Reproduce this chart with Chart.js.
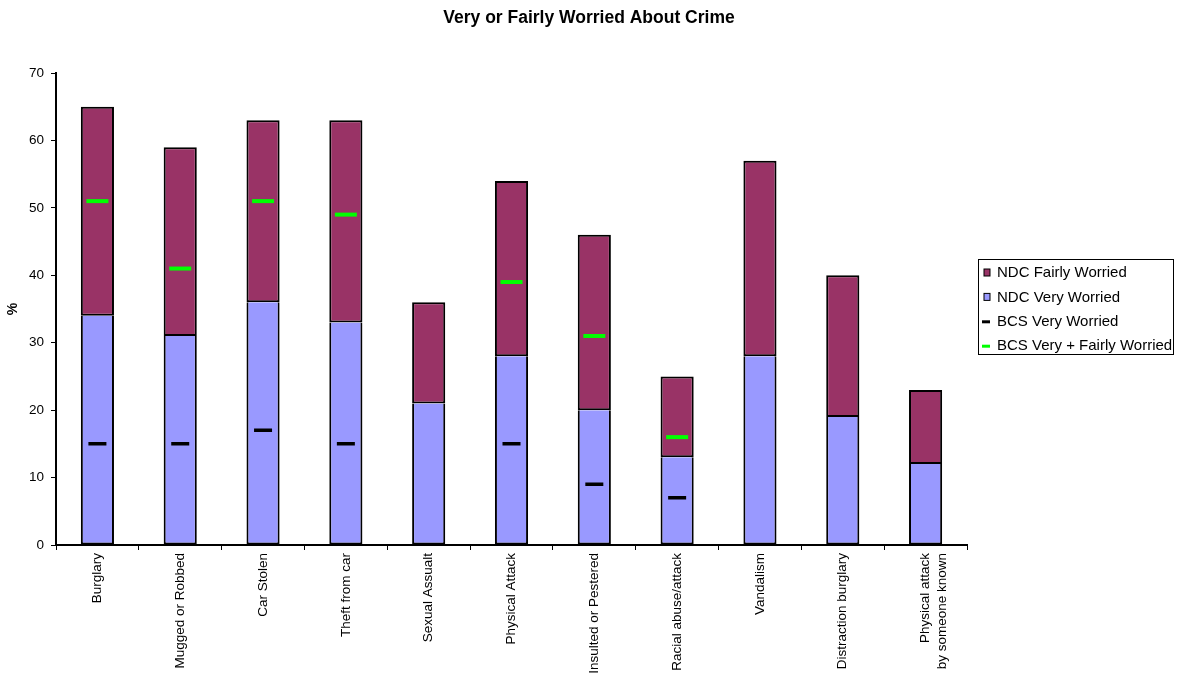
<!DOCTYPE html>
<html>
<head>
<meta charset="utf-8">
<title>Very or Fairly Worried About Crime</title>
<script src="https://cdn.jsdelivr.net/npm/chart.js@4/dist/chart.umd.min.js"></script>
<style>
  html, body { margin: 0; padding: 0; background: #ffffff; }
  #wrap { width: 1178px; height: 675px; position: relative; }
</style>
</head>
<body>
<div id="wrap"><canvas id="chart"></canvas></div>
<script>
// Crime types on the category axis
const categories = [
  'Burglary', 'Mugged or Robbed', 'Car Stolen', 'Theft from car', 'Sexual Assualt',
  'Physical Attack', 'Insulted or Pestered', 'Racial abuse/attack', 'Vandalism',
  'Distraction burglary', ['Physical attack', 'by someone known']
];

// NDC survey (%), stacked bars
const ndcVery   = [34, 31, 36, 33, 21, 28, 20, 13, 28, 19, 12];
const ndcFairly = [31, 28, 27, 30, 15, 26, 26, 12, 29, 21, 11];

// BCS comparison figures (%), drawn as dash markers
const bcsVery       = [15, 15, 17, 15, null, 15, 9, 7, null, null, null];
const bcsVeryFairly = [51, 41, 51, 49, null, 39, 31, 16, null, null, null];

// Value axis
const yMin = 0, yMax = 70, yStep = 10;

const FONT = "'Liberation Sans', Arial, Helvetica, sans-serif";
const LEGEND_ORDER = [1, 0, 2, 3];

// Framed legend placed in its own layout column on the right
const sideLegend = {
  id: 'sideLegend',
  beforeInit(chart) {
    const box = {
      position: 'right',
      weight: 0,
      fullSize: false,
      options: {},
      left: 0, top: 0, right: 0, bottom: 0, width: 0, height: 0,
      isHorizontal() { return false; },
      update(maxWidth, maxHeight) {
        this.width = 211;
        this.height = maxHeight;
      },
      draw() {
        const ctx = chart.ctx;
        const fx = this.left + 11.5;
        const fy = this.top + 186.5;
        const fw = 195, fh = 95;
        ctx.save();
        ctx.fillStyle = '#ffffff';
        ctx.fillRect(fx, fy, fw, fh);
        ctx.strokeStyle = '#000000';
        ctx.lineWidth = 1;
        ctx.strokeRect(fx, fy, fw, fh);
        ctx.font = '15px ' + FONT;
        ctx.textBaseline = 'middle';
        ctx.textAlign = 'left';
        LEGEND_ORDER.forEach((di, row) => {
          const ds = chart.data.datasets[di];
          const cy = fy + 13.5 + row * 24.4;
          if (ds.type === 'line') {
            ctx.strokeStyle = ds.pointBorderColor;
            ctx.lineWidth = 3;
            ctx.beginPath();
            ctx.moveTo(fx + 3.5, cy);
            ctx.lineTo(fx + 11.5, cy);
            ctx.stroke();
          } else {
            ctx.fillStyle = ds.backgroundColor;
            ctx.fillRect(fx + 5.5, cy - 4, 6, 7);
            ctx.strokeStyle = '#000000';
            ctx.lineWidth = 1;
            ctx.strokeRect(fx + 5.5, cy - 4, 6, 7);
          }
          ctx.fillStyle = '#000000';
          ctx.fillText(ds.label, fx + 18.5, cy);
        });
        ctx.restore();
      }
    };
    Chart.layouts.addBox(chart, box);
  }
};

const ctx = document.getElementById('chart').getContext('2d');
new Chart(ctx, {
  type: 'bar',
  data: {
    labels: categories,
    datasets: [
      {
        label: 'NDC Very Worried',
        data: ndcVery,
        backgroundColor: '#9999FF',
        borderColor: '#000000',
        borderWidth: 2,
        borderSkipped: 'end',
        inflateAmount: 0,
        stack: 'ndc',
        order: 1
      },
      {
        label: 'NDC Fairly Worried',
        data: ndcFairly,
        backgroundColor: '#993366',
        borderColor: '#000000',
        borderWidth: 2,
        borderSkipped: false,
        inflateAmount: 0,
        stack: 'ndc',
        order: 1
      },
      {
        type: 'line',
        label: 'BCS Very Worried',
        data: bcsVery,
        showLine: false,
        pointStyle: 'line',
        pointRadius: 9,
        pointBorderWidth: 3.5,
        pointBorderColor: '#000000',
        pointBackgroundColor: '#000000',
        borderColor: '#000000',
        stack: 'bcsVery',
        order: 0
      },
      {
        type: 'line',
        label: 'BCS Very + Fairly Worried',
        data: bcsVeryFairly,
        showLine: false,
        pointStyle: 'line',
        pointRadius: 11,
        pointBorderWidth: 4,
        pointBorderColor: '#00FF00',
        pointBackgroundColor: '#00FF00',
        borderColor: '#00FF00',
        stack: 'bcsVeryFairly',
        order: 0
      }
    ]
  },
  options: {
    responsive: true,
    maintainAspectRatio: false,
    animation: false,
    events: [],
    layout: { padding: 0 },
    datasets: {
      bar: { barPercentage: 0.4, categoryPercentage: 1.0 }
    },
    plugins: {
      legend: { display: false },
      tooltip: { enabled: false },
      title: {
        display: true,
        text: 'Very or Fairly Worried About Crime',
        color: '#000000',
        font: { family: FONT, size: 17.5, weight: 'bold' },
        padding: { top: 8, bottom: 44 }
      }
    },
    scales: {
      x: {
        stacked: true,
        offset: true,
        grid: {
          display: true,
          offset: true,
          drawOnChartArea: false,
          drawTicks: true,
          tickLength: 5,
          color: '#000000',
          lineWidth: 1
        },
        border: { display: true, color: '#000000', width: 2 },
        ticks: {
          autoSkip: false,
          minRotation: 90,
          maxRotation: 90,
          padding: 3,
          color: '#000000',
          font: { family: FONT, size: 13.5 }
        },
        afterFit(scale) { scale.height = 130; }
      },
      y: {
        stacked: true,
        min: yMin,
        max: yMax,
        grid: {
          display: true,
          drawOnChartArea: false,
          drawTicks: true,
          tickLength: 5,
          color: '#000000',
          lineWidth: 1
        },
        border: { display: true, color: '#000000', width: 2 },
        ticks: {
          stepSize: yStep,
          padding: 7,
          color: '#000000',
          font: { family: FONT, size: 13.5 }
        },
        title: {
          display: true,
          text: '%',
          color: '#000000',
          font: { family: FONT, size: 14, weight: 'bold' },
          padding: { top: 5, bottom: 4 }
        },
        afterFit(scale) { scale.width = 56; }
      }
    }
  },
  plugins: [sideLegend]
});
</script>
</body>
</html>
